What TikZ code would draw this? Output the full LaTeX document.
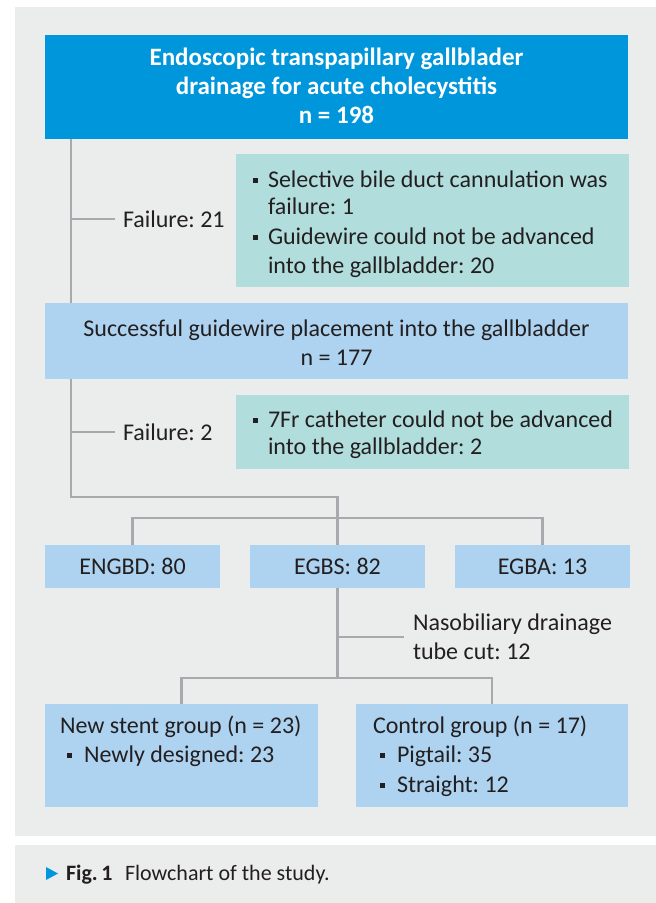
\documentclass[tikz,border=0pt]{standalone}
\usepackage{fontspec}
\setmainfont{Carlito}
\usetikzlibrary{calc}
\definecolor{topblue}{HTML}{0096DB}
\definecolor{lightblue}{HTML}{ADD3F0}
\definecolor{mint}{HTML}{B1DEDC}
\definecolor{panel}{HTML}{EBECEC}
\definecolor{linegrey}{HTML}{A7A9AC}
\definecolor{ink}{HTML}{231F20}
\newcommand{\sqb}{\raisebox{0.17em}{\rule{0.22em}{0.22em}}}
\frenchspacing
\pgfdeclarelayer{bg}
\pgfdeclarelayer{lines}
\pgfsetlayers{bg,lines,main}
\begin{document}
\begin{tikzpicture}[x=1pt,y=-1pt,
  box/.style={draw=none,inner sep=0pt,outer sep=0pt,anchor=north west},
  txt/.style={inner sep=0pt,outer sep=0pt,text=ink,font=\fontsize{24}{29}\selectfont},
  txtw/.style={inner sep=0pt,outer sep=0pt,text=white,font=\fontsize{25}{29}\selectfont\bfseries},
  captxt/.style={inner sep=0pt,outer sep=0pt,text=ink,font=\fontsize{22}{26}\selectfont},
  conn/.style={draw=linegrey,line width=2.2pt}]
\useasboundingbox (0,0) rectangle (656,903);
\begin{pgfonlayer}{bg}
\fill[white] (0,0) rectangle (656,903);
\fill[panel] (15,7) rectangle (656,836);
\fill[panel] (15,845) rectangle (656,903);
\end{pgfonlayer}
% boxes
\node[box,fill=topblue,minimum width=583pt,minimum height=104pt] (top) at (45,35) {};
\node[box,fill=mint,minimum width=393pt,minimum height=133pt] (g1) at (236,154) {};
\node[box,fill=lightblue,minimum width=583pt,minimum height=76pt] (mid) at (45,303) {};
\node[box,fill=mint,minimum width=393pt,minimum height=74pt] (g2) at (236,395) {};
\node[box,fill=lightblue,minimum width=175pt,minimum height=43pt] (engbd) at (45,545) {};
\node[box,fill=lightblue,minimum width=175pt,minimum height=43pt] (egbs) at (250,545) {};
\node[box,fill=lightblue,minimum width=175pt,minimum height=43pt] (egba) at (455,545) {};
\node[box,fill=lightblue,minimum width=273pt,minimum height=103pt] (newg) at (45,704) {};
\node[box,fill=lightblue,minimum width=272pt,minimum height=103pt] (ctrl) at (356,704) {};
% texts
\node[txtw,anchor=base] (t1) at (336.5,65) {Endoscopic transpapillary gallblader};
\node[txtw,anchor=base] (t2) at (336.5,94) {drainage for acute cholecystitis};
\node[txtw,anchor=base] (t3) at (336.5,123) {n = 198};
\node[txt,anchor=base west] (g1a) at (253,187) {\makebox[15pt][l]{\sqb}Selective bile duct cannulation was};
\node[txt,anchor=base west] (g1b) at (268,214) {failure: 1};
\node[txt,anchor=base west] (g1c) at (253,244) {\makebox[15pt][l]{\sqb}Guidewire could not be advanced};
\node[txt,anchor=base west] (g1d) at (268,273) {into the gallbladder: 20};
\node[txt,anchor=base west] (f21) at (123,227) {Failure: 21};
\node[txt,anchor=base] (m1) at (336.5,336) {Successful guidewire placement into the gallbladder};
\node[txt,anchor=base] (m2) at (336.5,365) {n = 177};
\node[txt,anchor=base west] (g2a) at (253,427) {\makebox[15pt][l]{\sqb}7Fr catheter could not be advanced};
\node[txt,anchor=base west] (g2b) at (268,454) {into the gallbladder: 2};
\node[txt,anchor=base west] (f2) at (123,440) {Failure: 2};
\node[txt,anchor=base] (e1) at (132.5,574) {ENGBD: 80};
\node[txt,anchor=base] (e2) at (337.5,574) {EGBS: 82};
\node[txt,anchor=base] (e3) at (542.5,574) {EGBA: 13};
\node[txt,anchor=base west] (n1) at (413,630) {Nasobiliary drainage};
\node[txt,anchor=base west] (n2) at (413,659) {tube cut: 12};
\node[txt,anchor=base west] (l1) at (60,733) {New stent group (n = 23)};
\node[txt,anchor=base west] (l2) at (67,762) {\makebox[17pt][l]{\sqb}Newly designed: 23};
\node[txt,anchor=base west] (r1) at (373,733) {Control group (n = 17)};
\node[txt,anchor=base west] (r2) at (380,762) {\makebox[17pt][l]{\sqb}Pigtail: 35};
\node[txt,anchor=base west] (r3) at (380,792) {\makebox[17pt][l]{\sqb}Straight: 12};
% caption
\fill[topblue] (46,867) -- (58,873.5) -- (46,880) -- cycle;
\node[captxt,anchor=base west,font=\fontsize{22}{26}\selectfont\bfseries] (fig) at (66,880) {Fig.\,1};
\node[captxt,anchor=base west] (capt) at (125,880) {Flowchart of the study.};
% connectors
\coordinate (tk) at (71,497);
\coordinate (bus) at (337.5,518);
\coordinate (bus2) at (337.5,678);
\coordinate (nb) at (337.5,637);
\begin{pgfonlayer}{lines}
\draw[conn] (top.south -| tk) -- (tk) -| (egbs.north);
\draw[conn] (engbd.north) |- (bus) -| (egba.north);
\draw[conn] (f21.west -| tk) -- ([xshift=-8pt]f21.west);
\draw[conn] (f2.west -| tk) -- ([xshift=-8pt]f2.west);
\draw[conn] (egbs.south) -- (bus2);
\draw[conn] (newg.north) |- (bus2) -| (ctrl.north);
\draw[conn] (nb) -- ([xshift=-9pt]nb -| n1.west);
\end{pgfonlayer}
\end{tikzpicture}
\end{document}
